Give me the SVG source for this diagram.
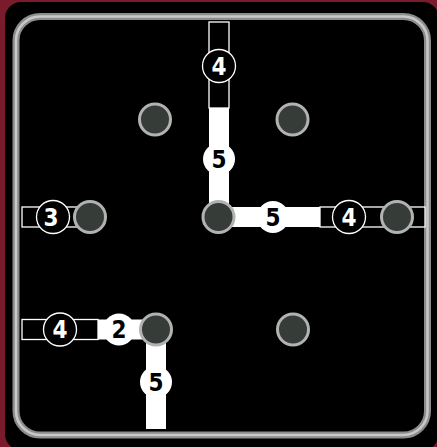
<svg xmlns="http://www.w3.org/2000/svg" width="437" height="447" viewBox="0 0 437 447">
<style>
.out{fill:#000;stroke:#fff;stroke-width:1.3}
.sol{fill:#fff}
.lo{fill:#000;stroke:#fff;stroke-width:1.3}
.ls{fill:#fff}
.to,.ts{font-family:"DejaVu Sans Condensed","DejaVu Sans","Liberation Sans",sans-serif;font-stretch:condensed;font-weight:bold;font-size:24px;text-anchor:middle}
.to{fill:#fff}
.ts{fill:#000}
.node{fill:#363d39;stroke:#b2b2b2;stroke-width:3}
</style>
<rect x="0" y="0" width="437" height="447" fill="#7a1b2b"/>
<rect x="5" y="2" width="434" height="448" rx="16" fill="#000"/>
<rect x="16" y="16.5" width="411.5" height="418.5" rx="24" fill="none" stroke="#8c8c8c" stroke-width="7"/>
<rect x="16" y="16.5" width="411.5" height="418.5" rx="24" fill="none" stroke="#c8c8c8" stroke-width="2.5"/>
<g id="connectors">
  <rect class="out" x="209" y="22" width="20" height="86"/>
  <rect class="sol" x="209" y="108" width="20" height="110"/>
  <rect class="sol" x="218" y="207" width="102" height="20"/>
  <rect class="out" x="320" y="207" width="105" height="20"/>
  <rect class="out" x="22" y="207" width="68" height="20"/>
  <rect class="out" x="22" y="319.5" width="76" height="20"/>
  <rect class="sol" x="98" y="319.5" width="58" height="20"/>
  <rect class="sol" x="146" y="329" width="20" height="100"/>
  <circle class="lo" cx="219" cy="66" r="16.5"/><text class="to" x="219" y="74.5">4</text>
  <circle class="ls" cx="219" cy="159" r="16"/><text class="ts" x="219" y="167.5">5</text>
  <circle class="ls" cx="273" cy="217" r="16"/><text class="ts" x="273" y="225.5">5</text>
  <circle class="lo" cx="349" cy="217" r="16.5"/><text class="to" x="349" y="225.5">4</text>
  <circle class="lo" cx="53" cy="217" r="16.5"/><text class="to" x="51" y="225.5">3</text>
  <circle class="lo" cx="60" cy="329.5" r="16.5"/><text class="to" x="60" y="338">4</text>
  <circle class="ls" cx="119" cy="329.5" r="16"/><text class="ts" x="119" y="338">2</text>
  <circle class="ls" cx="156" cy="382" r="16"/><text class="ts" x="156" y="390.5">5</text>
</g>
<g id="n1"><circle class="node" cx="155" cy="119.5" r="15.5"/></g>
<g id="n2"><circle class="node" cx="292.5" cy="119.5" r="15.5"/></g>
<g id="n3"><circle class="node" cx="90" cy="217" r="15.5"/></g>
<g id="n4"><circle class="node" cx="218.5" cy="217" r="15.5"/></g>
<g id="n5"><circle class="node" cx="397" cy="217" r="15.5"/></g>
<g id="n6"><circle class="node" cx="156" cy="329.5" r="15.5"/></g>
<g id="n7"><circle class="node" cx="293" cy="329.5" r="15.5"/></g>
</svg>
